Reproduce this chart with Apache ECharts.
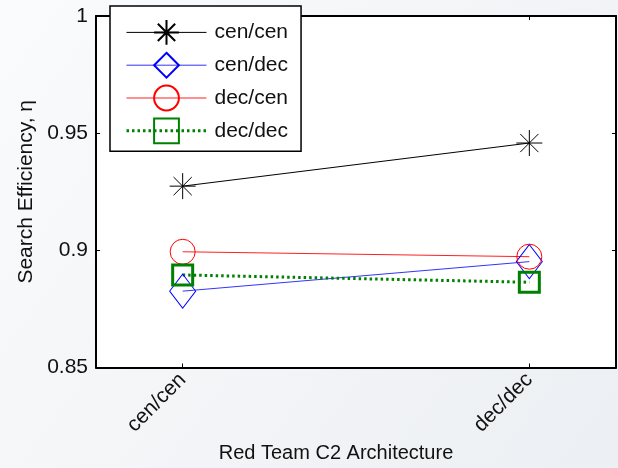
<!DOCTYPE html>
<html>
<head>
<meta charset="utf-8">
<script src="https://cdn.jsdelivr.net/npm/echarts@6/dist/echarts.min.js"></script>
<style>
html,body{margin:0;padding:0;}
#c{width:618px;height:468px;}
</style>
</head>
<body>
<div id="c"></div>
<script>
// Data
const categories = ['cen/cen', 'dec/dec'];
const categoryPos = [1, 2];
const seriesNames = ['cen/cen', 'cen/dec', 'dec/cen', 'dec/dec'];
const cenCen = [0.9274, 0.9458];
const cenDec = [0.8826, 0.8952];
const decCen = [0.8994, 0.8973];
const decDec = [0.8895, 0.8864];
const yTicks = [0.85, 0.9, 0.95, 1];
const xLabel = 'Red Team C2 Architecture';
const yLabel = 'Search Efficiency, \u03B7';

const FONT = '"Liberation Sans", Arial, Helvetica, sans-serif';
const FS = 21;
const asterisk = 'path://M0,12L24,12M12,0L12,24M3.6,3.6L20.4,20.4M20.4,3.6L3.6,20.4';

function pts(vals) { return vals.map((v, i) => [categoryPos[i], v]); }

const chart = echarts.init(document.getElementById('c'));
const tickFmt = v => String(parseFloat(Number(v).toFixed(2)));
const legendWidths = [1, 1, 1, 3];

chart.setOption({
  backgroundColor: {
    type: 'linear', x: 0, y: 0, x2: 1, y2: 1,
    colorStops: [{offset: 0, color: '#fafbfc'}, {offset: 1, color: '#eceff3'}]
  },
  animation: false,
  textStyle: {fontFamily: FONT},
  grid: {left: 96, top: 16, width: 520, height: 355, show: true, backgroundColor: '#ffffff', borderWidth: 0},
  legend: {
    orient: 'vertical', left: 110, top: 6,
    padding: [13, 13, 7, 15],
    itemWidth: 80, itemHeight: 31, itemGap: 6,
    backgroundColor: '#ffffff', borderColor: '#000', borderWidth: 1.5,
    textStyle: {fontFamily: FONT, fontSize: FS, color: '#111', padding: [0, 0, 0, 3]},
    data: seriesNames.map((n, i) => ({name: n, lineStyle: {width: legendWidths[i]}}))
  },
  xAxis: [{
    type: 'value', min: 0.75, max: 2.25, position: 'bottom',
    name: xLabel, nameLocation: 'middle', nameGap: 75,
    nameTextStyle: {fontFamily: FONT, fontSize: 20, color: '#111', padding: [0, 40, 0, 0]},
    axisLine: {show: true, lineStyle: {color: '#000', width: 2}},
    axisTick: {show: true, inside: true, length: 4, customValues: categoryPos, lineStyle: {color: '#000'}},
    axisLabel: {show: true, customValues: categoryPos, rotate: 45, margin: 9, fontFamily: FONT, fontSize: FS, color: '#111',
      formatter: v => categories[categoryPos.indexOf(Math.round(v))] || ''},
    splitLine: {show: false}
  }, {
    type: 'value', min: 0.75, max: 2.25, position: 'top',
    axisLine: {show: true, onZero: false, lineStyle: {color: '#000', width: 2}},
    axisTick: {show: true, inside: true, length: 4, customValues: categoryPos, lineStyle: {color: '#000'}},
    axisLabel: {show: false}, splitLine: {show: false}
  }],
  yAxis: [{
    type: 'value', min: 0.85, max: 1, interval: 0.05, position: 'left',
    name: yLabel, nameLocation: 'middle', nameGap: 58,
    nameTextStyle: {fontFamily: FONT, fontSize: FS, color: '#111'},
    axisLine: {show: true, lineStyle: {color: '#000', width: 2}},
    axisTick: {show: true, inside: true, length: 4, lineStyle: {color: '#000'}},
    axisLabel: {margin: 8, fontFamily: FONT, fontSize: FS, color: '#111', formatter: tickFmt},
    splitLine: {show: false}
  }, {
    type: 'value', min: 0.85, max: 1, interval: 0.05, position: 'right',
    axisLine: {show: true, onZero: false, lineStyle: {color: '#000', width: 2}},
    axisTick: {show: true, inside: true, length: 4, lineStyle: {color: '#000'}},
    axisLabel: {show: false}, splitLine: {show: false}
  }],
  series: [
    {
      name: seriesNames[0], type: 'line', data: pts(cenCen),
      symbol: asterisk, symbolSize: 26,
      itemStyle: {color: 'rgba(0,0,0,0)', borderColor: '#000', borderWidth: 1},
      lineStyle: {color: '#000', width: 1, type: 'solid'}
    },
    {
      name: seriesNames[1], type: 'line', data: pts(cenDec),
      symbol: 'diamond', symbolSize: [26, 34],
      itemStyle: {color: 'rgba(0,0,0,0)', borderColor: '#0000ff', borderWidth: 1},
      lineStyle: {color: '#3333ff', width: 1, type: 'solid'}
    },
    {
      name: seriesNames[2], type: 'line', data: pts(decCen),
      symbol: 'circle', symbolSize: 25,
      itemStyle: {color: 'rgba(0,0,0,0)', borderColor: '#ff0000', borderWidth: 1},
      lineStyle: {color: '#ff2020', width: 1, type: 'solid'}
    },
    {
      name: seriesNames[3], type: 'line', data: pts(decDec),
      symbol: 'rect', symbolSize: 20,
      itemStyle: {color: 'rgba(0,0,0,0)', borderColor: '#008000', borderWidth: 3},
      lineStyle: {color: '#008000', width: 3, type: [2.5, 3]}
    }
  ]
});
</script>
</body>
</html>
